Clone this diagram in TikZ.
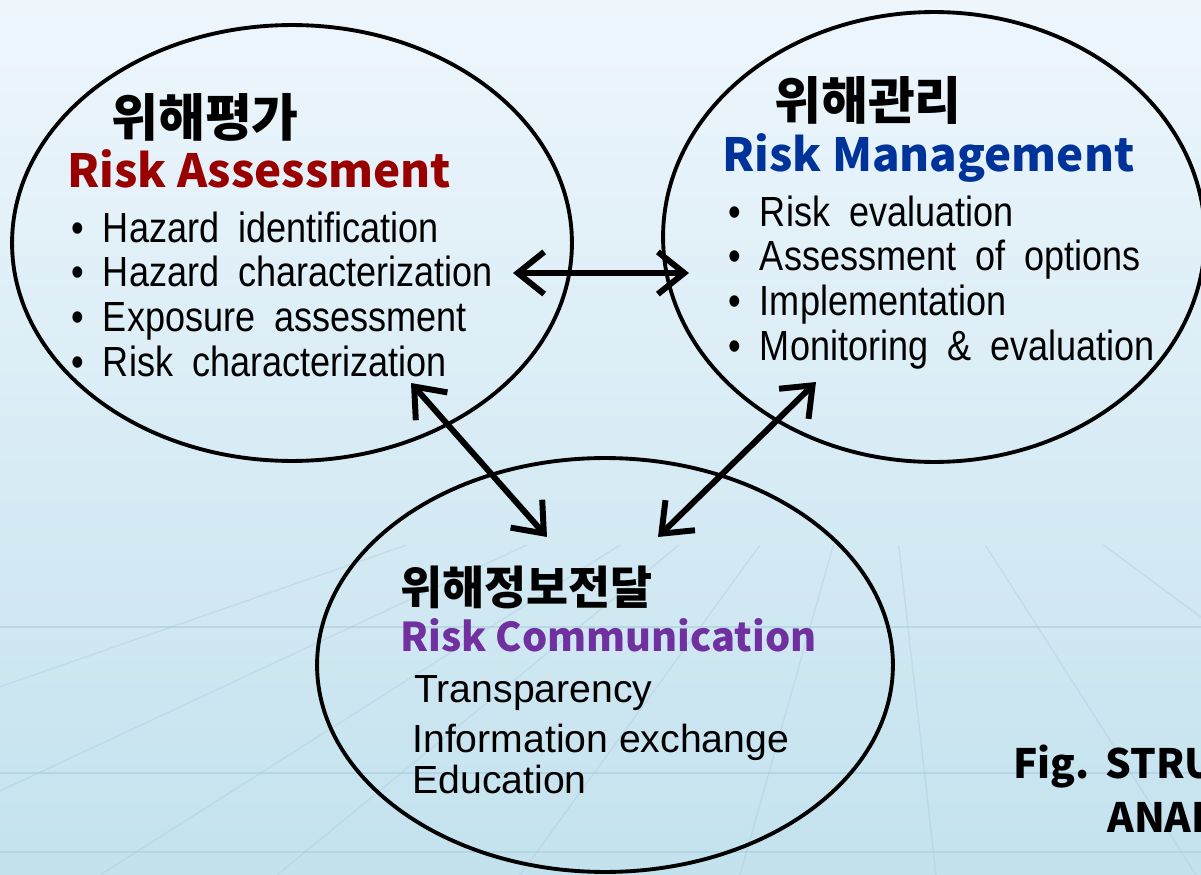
\documentclass[tikz,border=0pt]{standalone}
\usepackage{fontspec}
\setmainfont{Liberation Sans}
\newfontfamily\krfont{Noto Sans CJK KR}
\newfontfamily\narrowfont{Liberation Sans}[FakeStretch=0.855,WordSpace=1.9]
\usetikzlibrary{shapes.geometric,arrows.meta}

\definecolor{raRed}{HTML}{990000}
\definecolor{rmBlue}{HTML}{003399}
\definecolor{rcPurple}{HTML}{7030A0}
\definecolor{bgTop}{HTML}{EEF6FC}
\definecolor{bgBot}{HTML}{C3E2EE}
\definecolor{gridline}{HTML}{A6C8D6}

\tikzset{
	circ/.style={ellipse, draw, line width=2.2pt},
	krtitle/.style={anchor=base west, inner sep=0pt, font=\krfont\bfseries\fontsize{29}{32}\selectfont},
	entitle/.style={anchor=base west, inner sep=0pt, font=\krfont\bfseries\fontsize{26}{30}\selectfont},
	item/.style={anchor=base west, inner sep=0pt, font=\narrowfont\fontsize{24}{26}\selectfont},
	plainitem/.style={anchor=base west, inner sep=0pt, font=\fontsize{22.3}{25}\selectfont},
	figtext/.style={anchor=base west, inner sep=0pt, font=\krfont\bfseries\fontsize{23}{28}\selectfont},
	link/.style={line width=3.4pt, line cap=round, {Straight Barb[length=15pt,width=24pt]}-{Straight Barb[length=15pt,width=24pt]}},
}

\begin{document}
\begin{tikzpicture}[x=0.02cm, y=-0.02cm]
		\useasboundingbox (0,0) rectangle (1201,875);
		\clip (0,0) rectangle (1201,875);
		%background
		\fill[top color=bgTop, bottom color=bgBot] (0,0) rectangle (1201,875);
		\begin{scope}
			\clip (0,545) rectangle (1201,875);
			\foreach \bx in {-540,-180,100,277,520,740,936,1196,1550}{
				\draw[gridline, line width=0.8pt, opacity=0.35] (880,380) -- (\bx,875);
			}
		\end{scope}
		\foreach \gy in {627,773,852}{
			\draw[gridline, line width=1pt, opacity=0.5] (0,\gy) -- (1201,\gy);
		}
		
		%three circles
		\node[circ, minimum width=11.2cm, minimum height=8.72cm] (ra) at (292,243) {};
		\node[circ, minimum width=10.84cm, minimum height=9cm] (rm) at (934,237) {};
		\node[circ, minimum width=11.52cm, minimum height=8.28cm] (rc) at (605,665) {};
		
		%risk assessment
		\node[krtitle] (ra-kr) at (111,137) {위해평가};
		\node[entitle, text=raRed] (ra-en) at (67,188) {Risk Assessment};
		\foreach \t [count=\i] in {Hazard identification, Hazard characterization, Exposure assessment, Risk characterization}{
			\node[item] (ra-\i) at (71, 242+44.7*\i-44.7) {• \t};
		}
		
		%risk management
		\node[krtitle] (rm-kr) at (774,120) {위해관리};
		\node[entitle, text=rmBlue] (rm-en) at (722,172) {Risk Management};
		\foreach \t [count=\i] in {Risk evaluation, Assessment of options, Implementation, Monitoring \& evaluation}{
			\node[item] (rm-\i) at (728, 226+44.7*\i-44.7) {• \t};
		}
		
		%risk communication
		\node[krtitle, font=\krfont\bfseries\fontsize{26}{30}\selectfont] (rc-kr) at (400,604) {위해정보전달};
		\node[entitle, text=rcPurple, font=\krfont\bfseries\fontsize{22.6}{28}\selectfont] (rc-en) at (400,651) {Risk Communication};
		\node[plainitem] (rc-1) at (414,702) {Transparency};
		\node[plainitem] (rc-2) at (412,752) {Information exchange};
		\node[plainitem] (rc-3) at (412,793) {Education};
		
		%arrows
		\coordinate (ra-r) at (513,273);
		\coordinate (rm-l) at (689,273);
		\coordinate (ra-b) at (411,383);
		\coordinate (rc-l) at (547,537);
		\coordinate (rm-b) at (816,382);
		\coordinate (rc-r) at (658,537);
		\draw[link] (ra-r) -- (rm-l);
		\draw[link] (ra-b) -- (rc-l);
		\draw[link] (rm-b) -- (rc-r);
		
		%caption, cut by the edge
		\node[figtext] (fig-a) at (1013,778) {Fig.};
		\node[figtext] (fig-b) at (1105,778) {STRU};
		\node[figtext] (fig-c) at (1107,832) {ANAL};
\end{tikzpicture}
\end{document}
